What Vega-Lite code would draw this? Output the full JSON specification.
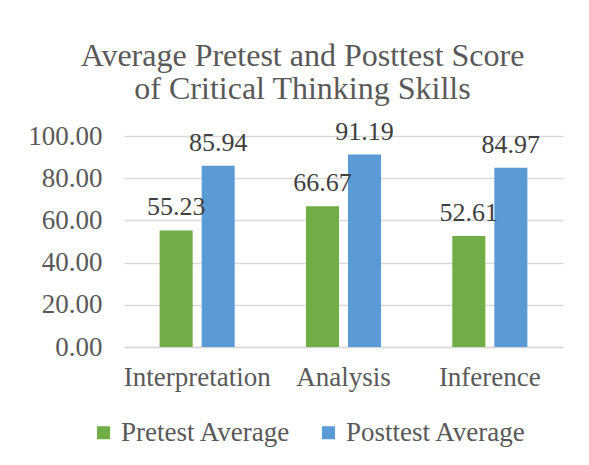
{
  "$schema": "https://vega.github.io/schema/vega-lite/v6.json",
  "autosize": "none",
  "width": 439,
  "height": 211,
  "padding": {"left": 124, "top": 136, "right": 26, "bottom": 118},
  "background": "white",
  "config": {
    "font": "Liberation Serif",
    "view": {"stroke": null},
    "text": {"font": "Liberation Serif"},
    "mark": {"font": "Liberation Serif"},
    "legend": {"labelFont": "Liberation Serif"}
  },
  "title": {
    "text": ["Average Pretest and Posttest Score", "of Critical Thinking Skills"],
    "font": "Liberation Serif",
    "fontSize": 32,
    "fontWeight": "normal",
    "color": "#595959",
    "lineHeight": 33,
    "anchor": "middle",
    "dx": -41,
    "offset": 13
  },
  "data": {
    "values": [
      {"skill": "Interpretation", "series": "Pretest Average", "score": 55.23},
      {"skill": "Interpretation", "series": "Posttest Average", "score": 85.94},
      {"skill": "Analysis", "series": "Pretest Average", "score": 66.67},
      {"skill": "Analysis", "series": "Posttest Average", "score": 91.19},
      {"skill": "Inference", "series": "Pretest Average", "score": 52.61},
      {"skill": "Inference", "series": "Posttest Average", "score": 84.97}
    ]
  },
  "encoding": {
    "x": {
      "field": "skill",
      "type": "nominal",
      "sort": ["Interpretation", "Analysis", "Inference"],
      "scale": {"paddingInner": 0.487, "paddingOuter": 0.2435},
      "axis": {
        "title": null,
        "labelAngle": 0,
        "labelFont": "Liberation Serif",
        "labelFontSize": 27,
        "labelColor": "#595959",
        "labelPadding": 17,
        "ticks": false,
        "domainColor": "#d9d9d9",
        "domainWidth": 1.5
      }
    },
    "xOffset": {
      "field": "series",
      "type": "nominal",
      "sort": ["Pretest Average", "Posttest Average"],
      "scale": {"paddingInner": 0.214, "paddingOuter": 0}
    },
    "y": {
      "field": "score",
      "type": "quantitative",
      "scale": {"domain": [0, 100]},
      "axis": {
        "title": null,
        "values": [0, 20, 40, 60, 80, 100],
        "format": ".2f",
        "labelFont": "Liberation Serif",
        "labelFontSize": 27,
        "labelColor": "#595959",
        "labelPadding": 22,
        "ticks": false,
        "domain": false,
        "gridColor": "#d9d9d9",
        "gridWidth": 1.5
      }
    }
  },
  "layer": [
    {
      "mark": {"type": "bar"},
      "encoding": {
        "color": {
          "field": "series",
          "type": "nominal",
          "sort": ["Pretest Average", "Posttest Average"],
          "scale": {"domain": ["Pretest Average", "Posttest Average"], "range": ["#70ad47", "#5b9bd5"]},
          "legend": {
            "title": null,
            "orient": "none",
            "direction": "horizontal",
            "legendX": -34,
            "legendY": 283,
            "symbolType": "square",
            "symbolSize": 169,
            "symbolStrokeWidth": 0,
            "symbolOpacity": 1,
            "labelFont": "Liberation Serif",
            "labelFontSize": 27,
            "labelColor": "#595959",
            "labelLimit": 300,
            "columnPadding": 24,
            "labelOffset": 4
          }
        }
      }
    },
    {
      "mark": {"type": "text", "baseline": "bottom", "dy": -10, "fontSize": 26, "color": "#404040", "font": "Liberation Serif"},
      "encoding": {
        "text": {"field": "score", "type": "quantitative", "format": ".2f"}
      }
    }
  ]
}
